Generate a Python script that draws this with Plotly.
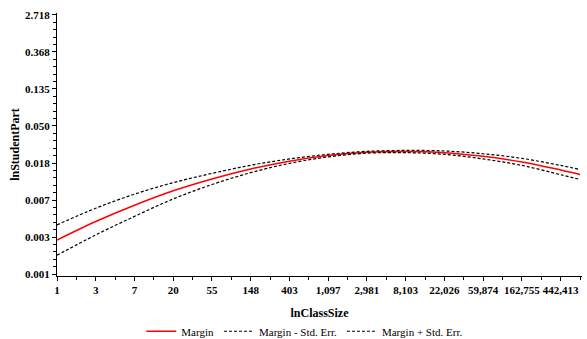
import plotly.graph_objects as go

# ln(class size) positions and the fitted margin (ln student participation)
ln_class = [0, 1, 2, 3, 4, 5, 6, 7, 8, 9, 10, 11, 12, 13, 13.5]
margin = [-6.08, -5.58, -5.14, -4.75, -4.43, -4.16, -3.95, -3.80, -3.71, -3.69, -3.72, -3.82, -3.97, -4.19, -4.31]
margin_lo = [-6.49, -5.94, -5.44, -4.97, -4.58, -4.26, -4.01, -3.835, -3.735, -3.72, -3.765, -3.89, -4.065, -4.315, -4.445]
margin_hi = [-5.67, -5.22, -4.84, -4.53, -4.28, -4.06, -3.89, -3.765, -3.685, -3.66, -3.675, -3.75, -3.875, -4.065, -4.175]

x_tickvals = list(range(0, 14))
x_ticktext = ["1", "3", "7", "20", "55", "148", "403", "1,097", "2,981", "8,103",
              "22,026", "59,874", "162,755", "442,413"]
y_tickvals = [-7, -6, -5, -4, -3, -2, -1, 0]
y_ticktext = ["0.001", "0.003", "0.007", "0.018", "0.050", "0.135", "0.368", "2.718"]

FONT = "Liberation Serif, Times New Roman, serif"

fig = go.Figure()
fig.add_trace(go.Scatter(x=ln_class, y=margin, mode="lines", name="Margin",
                         line=dict(color="#ff0000", width=1.5, shape="spline")))
fig.add_trace(go.Scatter(x=ln_class, y=margin_lo, mode="lines", name="Margin - Std. Err.",
                         line=dict(color="black", width=1.2, dash="3px,2px", shape="spline")))
fig.add_trace(go.Scatter(x=ln_class, y=margin_hi, mode="lines", name="Margin + Std. Err.",
                         line=dict(color="black", width=1.2, dash="3px,2px", shape="spline")))

fig.update_layout(
    width=587, height=339,
    margin=dict(l=57, r=5, t=13, b=63, autoexpand=False),
    paper_bgcolor="white", plot_bgcolor="white",
    font=dict(family=FONT, size=11, color="black"),
    showlegend=True,
    legend=dict(orientation="h", x=0.472, xanchor="center", y=-0.155, yanchor="top",
                font=dict(family=FONT, size=11), itemwidth=30, tracegroupgap=0),
    xaxis=dict(range=[0, 13.55], tickvals=x_tickvals,
               ticktext=["<b>%s</b>" % t for t in x_ticktext],
               showgrid=False, zeroline=False, showline=True, linecolor="black", linewidth=1,
               ticks="outside", ticklen=4, tickcolor="black", automargin=False,
               tickfont=dict(family=FONT, size=11, color="black"),
               minor=dict(dtick=0.5, ticks="outside", ticklen=3, tickcolor="black", showgrid=False),
               title=dict(text="<b>lnClassSize</b>", font=dict(family=FONT, size=12), standoff=13)),
    yaxis=dict(range=[-7.05, 0.05], tickvals=y_tickvals,
               ticktext=["<b>%s</b>" % t for t in y_ticktext],
               showgrid=False, zeroline=False, showline=True, linecolor="black", linewidth=1,
               ticks="outside", ticklen=4, tickcolor="black", automargin=False,
               tickfont=dict(family=FONT, size=11, color="black"),
               minor=dict(dtick=0.2, ticks="outside", ticklen=3, tickcolor="black", showgrid=False),
               title=dict(text="<b>lnStudentPart</b>", font=dict(family=FONT, size=12), standoff=2)),
)

fig.write_html("out.html", config={"displayModeBar": False},
               post_script="document.body.style.margin='0';document.body.style.overflow='hidden';")
